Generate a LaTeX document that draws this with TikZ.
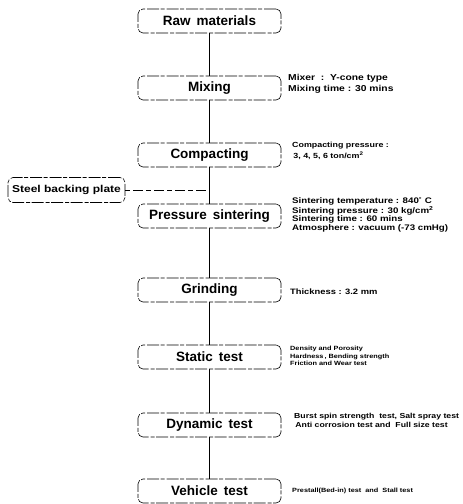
\documentclass[tikz,border=0pt]{standalone}
\usepackage{fontspec}
\setmainfont{Liberation Sans}
\newfontfamily\notefont[FakeStretch=1.2]{Liberation Sans}
\usetikzlibrary{calc}
\tikzset{
  stepbox/.style={draw, line width=0.6pt, dash pattern=on 12pt off 2pt on 4pt off 1.5pt,
    rounded corners=5pt, minimum width=143pt, minimum height=24pt, inner sep=0pt,
    font=\fontsize{13.5}{15}\selectfont\bfseries},
  sidebox/.style={draw, line width=0.6pt, dash pattern=on 12pt off 2pt on 4pt off 1.5pt,
    rounded corners=5pt, minimum width=117pt, minimum height=25pt, inner sep=0pt,
    font=\notefont\fontsize{10}{12}\selectfont\bfseries},
  note/.style={anchor=west, align=left, inner sep=0pt},
  flow/.style={line width=0.6pt},
  dashflow/.style={line width=0.6pt, dash pattern=on 5pt off 3pt on 10pt off 3pt}
}
\newcommand{\nf}[2]{\notefont\fontsize{#1}{#2}\selectfont\bfseries}
\begin{document}
\begin{tikzpicture}[x=1pt,y=-1pt]
\useasboundingbox (0,0) rectangle (463,504);
\node[stepbox] (raw)  at (209.5,21)  {Raw\,\ materials};
\node[stepbox] (mix)  at (209.5,88)  {Mixing};
\node[stepbox] (comp) at (209.5,155) {Compacting};
\node[stepbox] (ps)   at (209.5,216) {Pressure\,\ sintering};
\node[stepbox] (grind) at (209.5,290) {Grinding};
\node[stepbox] (stat) at (209.5,357) {Static\,\ test};
\node[stepbox] (dyn)  at (209.5,425) {Dynamic\,\ test};
\node[stepbox] (veh)  at (209.5,491) {Vehicle\,\ test};
\node[sidebox] (steel) at (66.5,190) {Steel backing plate};

\draw[flow] (raw) -- (mix);
\draw[flow] (mix) -- (comp);
\draw[flow] (comp) -- (ps);
\draw[flow] (ps) -- (grind);
\draw[flow] (grind) -- (stat);
\draw[flow] (stat) -- (dyn);
\draw[flow] (dyn) -- (veh);
\coordinate (join) at (steel.east -| comp.south);
\draw[dashflow] (steel) -- (join);

\node[note, font=\nf{8.6}{11}] (nmix) at (288,83.5) {Mixer\ \ :\ \ Y-cone type\\Mixing time : 30 mins};
\node[note, font=\nf{7.4}{10.5}] (ncomp) at (292,151) {Compacting pressure :\\\,3, 4, 5, 6 ton/cm\textsuperscript{2}};
\node[note, font=\nf{8.1}{8.4}] (nps) at (292,214.5) {Sintering temperature : 840\textsuperscript{°} C\\Sintering pressure : 30 kg/cm\textsuperscript{2}\\Sintering time : 60 mins\\Atmosphere : vacuum (-73 cmHg)};
\node[note, font=\nf{7.8}{9}] (ngr) at (290,292) {Thickness : 3.2 mm};
\node[note, font=\nf{6.1}{7.6}] (nst) at (290,356) {Density and Porosity\\Hardness\,,\ Bending strength\\Friction and Wear test};
\node[note, font=\nf{7.25}{9.5}] (ndyn) at (294,420.5) {Burst spin strength\ \ test,\ Salt spray test\\\,Anti corrosion test and\ \ Full size test};
\node[note, font=\nf{6.1}{7}] (nveh) at (292,491) {Prestall(Bed-in) test\ \ and\ \ Stall test};
\end{tikzpicture}
\end{document}
